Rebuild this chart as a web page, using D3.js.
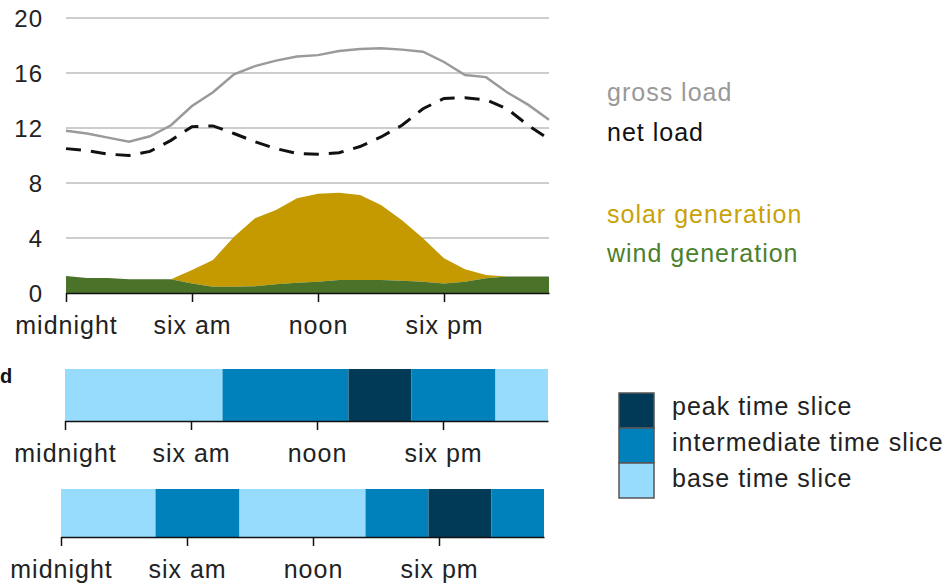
<!DOCTYPE html>
<html>
<head>
<meta charset="utf-8">
<script src="https://cdn.jsdelivr.net/npm/d3@7"></script>
<style>
  body { margin: 0; background: #fff; }
  svg text { font-family: Arial, "Liberation Sans", sans-serif; letter-spacing: 1px; }
</style>
</head>
<body>
<div id="chart"></div>
<script>
// data (hourly, midnight = 0)
var hours = d3.range(0, 24);
var grossLoad = [11.8, 11.6, 11.3, 11.0, 11.4, 12.2, 13.6, 14.6, 15.9, 16.5, 16.9, 17.2,
                 17.3, 17.6, 17.75, 17.8, 17.7, 17.55, 16.8, 15.85, 15.7, 14.6, 13.7, 12.6];
var netLoad = [10.5, 10.35, 10.1, 10.0, 10.3, 11.1, 12.1, 12.15, 11.6, 11.0, 10.5, 10.15,
               10.1, 10.2, 10.65, 11.35, 12.2, 13.4, 14.15, 14.2, 14.05, 13.4, 12.2, 11.2];
var windGen = [1.24, 1.1, 1.1, 1.0, 1.0, 1.0, 0.7, 0.46, 0.46, 0.5, 0.63, 0.75,
               0.82, 0.95, 0.95, 0.95, 0.9, 0.82, 0.7, 0.82, 1.07, 1.2, 1.2, 1.2];
var solarGen = [0, 0, 0, 0, 0, 0, 0.97, 1.94, 3.64, 4.93, 5.4, 6.15,
                6.4, 6.35, 6.18, 5.45, 4.4, 3.16, 1.82, 0.9, 0.24, 0, 0, 0];

var yTicks = [0, 4, 8, 12, 16, 20];
var xTickHours = [0, 6, 12, 18];
var xTickLabels = ["midnight", "six am", "noon", "six pm"];

// time slices: [start hour, end hour, kind]
var slicesA = [[0, 7.5, "base"], [7.5, 13.5, "inter"], [13.5, 16.5, "peak"], [16.5, 20.5, "inter"], [20.5, 23, "base"]];
var slicesB = [[0, 4.5, "base"], [4.5, 8.5, "inter"], [8.5, 14.5, "base"], [14.5, 17.5, "inter"], [17.5, 20.5, "peak"], [20.5, 23, "inter"]];

var sliceKinds = ["peak", "inter", "base"];
var sliceNames = ["peak time slice", "intermediate time slice", "base time slice"];
var sliceColors = ["#013a56", "#0081bc", "#97dbfd"];

var WD = 952, HT = 588;
var fontSize = 25;

var svg = d3.select("#chart").append("svg")
    .attr("width", WD)
    .attr("height", HT);

// ---- load chart ----
var x = d3.scaleLinear().domain([0, 23]).range([66, 549]);
var y = d3.scaleLinear().domain([0, 20]).range([293, 18]);

svg.append("g").selectAll("line")
    .data(yTicks.filter(function(d) { return d > 0; }))
    .enter().append("line")
      .attr("x1", x(0)).attr("x2", x(23))
      .attr("y1", function(d) { return y(d); })
      .attr("y2", function(d) { return y(d); })
      .attr("stroke", "#bdbdbd")
      .attr("stroke-width", 1.5);

svg.append("g").selectAll("text")
    .data(yTicks)
    .enter().append("text")
      .attr("x", 43)
      .attr("y", function(d) { return y(d); })
      .attr("dy", "0.36em")
      .attr("text-anchor", "end")
      .attr("fill", "#222")
      .style("font-size", "24px")
      .text(function(d) { return d; });

var windArea = d3.area()
    .x(function(d) { return x(d); })
    .y0(y(0))
    .y1(function(d) { return y(windGen[d]); });

var solarArea = d3.area()
    .x(function(d) { return x(d); })
    .y0(function(d) { return y(windGen[d]); })
    .y1(function(d) { return y(windGen[d] + solarGen[d]); });

svg.append("path").datum(hours).attr("d", solarArea).attr("fill", "#c49a00");
svg.append("path").datum(hours).attr("d", windArea).attr("fill", "#4a7329");

var grossLine = d3.line().x(function(d) { return x(d); }).y(function(d) { return y(grossLoad[d]); });
var netLine = d3.line().x(function(d) { return x(d); }).y(function(d) { return y(netLoad[d]); });

svg.append("path").datum(hours).attr("d", grossLine)
    .attr("fill", "none").attr("stroke", "#9a9a9a").attr("stroke-width", 2.5);
svg.append("path").datum(hours).attr("d", netLine)
    .attr("fill", "none").attr("stroke", "#111").attr("stroke-width", 3)
    .attr("stroke-dasharray", "15,10");

function timeAxis(g, scale) {
  g.call(d3.axisBottom(scale).tickValues(xTickHours).tickSize(9).tickSizeOuter(0)
      .tickFormat(function(d, i) { return xTickLabels[i]; }));
  g.select(".domain").attr("stroke", "#111").attr("stroke-width", 1.5);
  g.selectAll(".tick line").attr("stroke", "#111").attr("stroke-width", 1.5);
  g.selectAll(".tick text")
      .attr("y", 23)
      .attr("fill", "#222")
      .style("font-size", fontSize + "px")
      .style("font-family", "Arial, 'Liberation Sans', sans-serif");
}

svg.append("g").attr("transform", "translate(0," + y(0) + ")").call(timeAxis, x);

// legend of load chart
var loadLegend = [["gross load", "#999999", 101], ["net load", "#111", 141],
                  ["solar generation", "#c9a20a", 223], ["wind generation", "#4c7f2e", 262]];
svg.append("g").selectAll("text")
    .data(loadLegend)
    .enter().append("text")
      .attr("x", 607)
      .attr("y", function(d) { return d[2]; })
      .attr("fill", function(d) { return d[1]; })
      .style("font-size", fontSize + "px")
      .text(function(d) { return d[0]; });

// ---- time slice bars ----
var color = d3.scaleOrdinal().domain(sliceKinds).range(sliceColors);

function sliceBar(slices, x0, x1, top, bottom) {
  var xs = d3.scaleLinear().domain([0, 23]).range([x0, x1]);
  var g = svg.append("g");
  g.selectAll("rect")
    .data(slices)
    .enter().append("rect")
      .attr("x", function(d) { return xs(d[0]); })
      .attr("width", function(d) { return xs(d[1]) - xs(d[0]); })
      .attr("y", top)
      .attr("height", bottom - top)
      .attr("fill", function(d) { return color(d[2]); });
  g.append("g").attr("transform", "translate(0," + bottom + ")").call(timeAxis, xs);
}

sliceBar(slicesA, 65, 548, 369, 421);
sliceBar(slicesB, 61, 544, 489, 537);

// label stub at the left edge
svg.append("text")
    .attr("x", 0).attr("y", 383)
    .attr("fill", "#111")
    .style("font-size", "20px")
    .style("font-weight", "bold")
    .style("letter-spacing", "0px")
    .text("d");

// slice legend
var leg = svg.append("g").attr("transform", "translate(619,393)");
leg.selectAll("rect")
    .data(sliceKinds)
    .enter().append("rect")
      .attr("x", 0)
      .attr("y", function(d, i) { return i * 35; })
      .attr("width", 35)
      .attr("height", 35)
      .attr("fill", function(d) { return color(d); })
      .attr("stroke", "#555")
      .attr("stroke-width", 1.5);
leg.selectAll("text")
    .data(sliceNames)
    .enter().append("text")
      .attr("x", 53)
      .attr("y", function(d, i) { return 22 + i * 36; })
      .attr("fill", "#222")
      .style("font-size", fontSize + "px")
      .text(function(d) { return d; });
</script>
</body>
</html>
